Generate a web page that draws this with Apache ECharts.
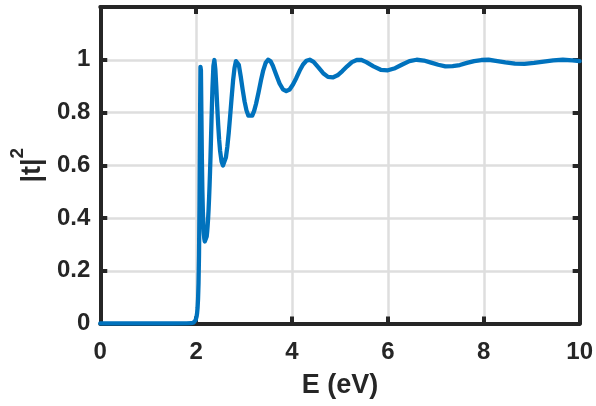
<!DOCTYPE html>
<html>
<head>
<meta charset="utf-8">
<script src="https://cdn.jsdelivr.net/npm/echarts@6/dist/echarts.min.js"></script>
<style>
html,body{margin:0;padding:0;background:#fff;}
#c{width:596px;height:406px;}
</style>
</head>
<body>
<div id="c"></div>
<script>
// Energy (eV) sample positions
var energy = [0, 0.5, 1.0, 1.5, 1.8, 1.9, 1.95, 1.98, 1.99,
  2.00, 2.01, 2.02, 2.03, 2.04, 2.05, 2.06, 2.07, 2.08, 2.09,
  2.10, 2.11, 2.12, 2.13, 2.14, 2.15, 2.16, 2.17, 2.18, 2.19,
  2.20, 2.21, 2.22, 2.23, 2.24, 2.25, 2.26, 2.27, 2.28, 2.29,
  2.30, 2.32, 2.34, 2.36, 2.38, 2.40, 2.42, 2.44, 2.46, 2.48,
  2.50, 2.53, 2.56, 2.59, 2.62, 2.65, 2.68, 2.71, 2.74, 2.77,
  2.80, 2.83, 2.86, 2.89, 2.93, 2.97, 3.01, 3.05, 3.09, 3.13,
  3.17, 3.21, 3.25, 3.30, 3.35, 3.40, 3.45, 3.50, 3.55, 3.60,
  3.67, 3.74, 3.81, 3.88, 3.95, 4.02, 4.09, 4.16, 4.23, 4.30,
  4.37, 4.45, 4.55, 4.65, 4.75, 4.85, 4.95, 5.05, 5.15, 5.25,
  5.35, 5.45, 5.55, 5.70, 5.85, 6.00, 6.15, 6.30, 6.45, 6.60,
  6.75, 6.90, 7.05, 7.20, 7.35, 7.50, 7.65, 7.80, 7.95, 8.10,
  8.25, 8.45, 8.65, 8.85, 9.05, 9.25, 9.45, 9.65, 9.85, 10.0];

// Transmission |t|^2
var transmission = [0, 0, 0, 0, 0.0003, 0.0012, 0.0041, 0.0098, 0.0134,
  0.0188, 0.0268, 0.0394, 0.0596, 0.0935, 0.153, 0.260, 0.450, 0.734, 0.973,
  0.960, 0.790, 0.623, 0.506, 0.428, 0.376, 0.343, 0.322, 0.311, 0.308,
  0.310, 0.317, 0.330, 0.348, 0.371, 0.399, 0.434, 0.475, 0.523, 0.577,
  0.635, 0.767, 0.891, 0.976, 0.999, 0.965, 0.898, 0.822, 0.753, 0.696,
  0.654, 0.614, 0.599, 0.604, 0.629, 0.669, 0.723, 0.788, 0.856, 0.920,
  0.968, 0.995, 0.998, 0.981, 0.937, 0.887, 0.842, 0.808, 0.788, 0.782,
  0.788, 0.806, 0.833, 0.875, 0.920, 0.960, 0.988, 1.000, 0.995, 0.977,
  0.943, 0.910, 0.888, 0.881, 0.887, 0.906, 0.931, 0.959, 0.982, 0.996,
  1.000, 0.992, 0.971, 0.949, 0.935, 0.933, 0.941, 0.957, 0.975, 0.991,
  0.999, 0.999, 0.991, 0.975, 0.962, 0.960, 0.968, 0.982, 0.995, 1.000,
  0.997, 0.989, 0.981, 0.975, 0.976, 0.980, 0.988, 0.995, 0.999, 1.000,
  0.996, 0.990, 0.985, 0.984, 0.988, 0.993, 0.998, 1.000, 0.998, 0.995];

var xTickValues = [0, 2, 4, 6, 8, 10];
var yTickValues = [0, 0.2, 0.4, 0.6, 0.8, 1];

var seriesData = energy.map(function (e, i) { return [e, transmission[i]]; });

var dark = '#262626';
var gridColor = '#dedede';
var font = 'Liberation Sans, Arial, Helvetica, sans-serif';

var chart = echarts.init(document.getElementById('c'), null, {renderer: 'canvas'});
chart.setOption({
  animation: false,
  backgroundColor: '#ffffff',
  grid: {left: 97, right: 15.5, top: 7, bottom: 82.5, containLabel: false},
  xAxis: [{
    type: 'value', min: 0, max: 10, interval: 2, position: 'bottom',
    axisLine: {show: true, onZero: false, lineStyle: {color: dark, width: 4}},
    axisTick: {show: true, inside: true, length: 7, lineStyle: {color: dark, width: 4}},
    splitLine: {show: true, lineStyle: {color: gridColor, width: 2.5}},
    axisLabel: {
      show: true, margin: 17, color: dark, fontSize: 24, fontWeight: 'bold', fontFamily: font,
      formatter: function (v) { return xTickValues.indexOf(v) >= 0 ? String(v) : ''; }
    },
    name: 'E (eV)', nameLocation: 'middle', nameGap: 49,
    nameTextStyle: {color: dark, fontSize: 27, fontWeight: 'bold', fontFamily: font}
  }, {
    type: 'value', min: 0, max: 10, interval: 2, position: 'top',
    axisLine: {show: true, onZero: false, lineStyle: {color: dark, width: 4}},
    axisTick: {show: true, inside: true, length: 7, lineStyle: {color: dark, width: 4}},
    splitLine: {show: false}, axisLabel: {show: false}
  }],
  yAxis: [{
    type: 'value', min: 0, max: 1.2, interval: 0.2, position: 'left',
    axisLine: {show: true, onZero: false, lineStyle: {color: dark, width: 4}},
    axisTick: {show: true, inside: true, length: 7, lineStyle: {color: dark, width: 4}},
    splitLine: {show: true, lineStyle: {color: gridColor, width: 2.5}},
    axisLabel: {
      show: true, margin: 10, color: dark, fontSize: 24, fontWeight: 'bold', fontFamily: font,
      showMaxLabel: false,
      formatter: function (v) {
        var r = Math.round(v * 10) / 10;
        return yTickValues.indexOf(r) >= 0 ? String(r) : '';
      }
    },
    name: '{m||t|}{s|2}', nameLocation: 'middle', nameGap: 41, nameRotate: 90,
    nameTextStyle: {
      color: dark, fontWeight: 'bold', fontFamily: font, fontSize: 27,
      rich: {
        m: {fontSize: 27, fontWeight: 'bold', fontFamily: font, color: dark},
        s: {fontSize: 19, fontWeight: 'bold', fontFamily: font, color: dark, padding: [0, 0, 30, 0]}
      }
    }
  }, {
    type: 'value', min: 0, max: 1.2, interval: 0.2, position: 'right',
    axisLine: {show: true, onZero: false, lineStyle: {color: dark, width: 4}},
    axisTick: {show: true, inside: true, length: 7, lineStyle: {color: dark, width: 4}},
    splitLine: {show: false}, axisLabel: {show: false}
  }],
  series: [{
    type: 'line', xAxisIndex: 0, yAxisIndex: 0,
    data: seriesData, showSymbol: false, smooth: false,
    lineStyle: {color: '#0072BD', width: 4.3, join: 'round', cap: 'round'},
    z: 5
  }]
});
</script>
</body>
</html>
